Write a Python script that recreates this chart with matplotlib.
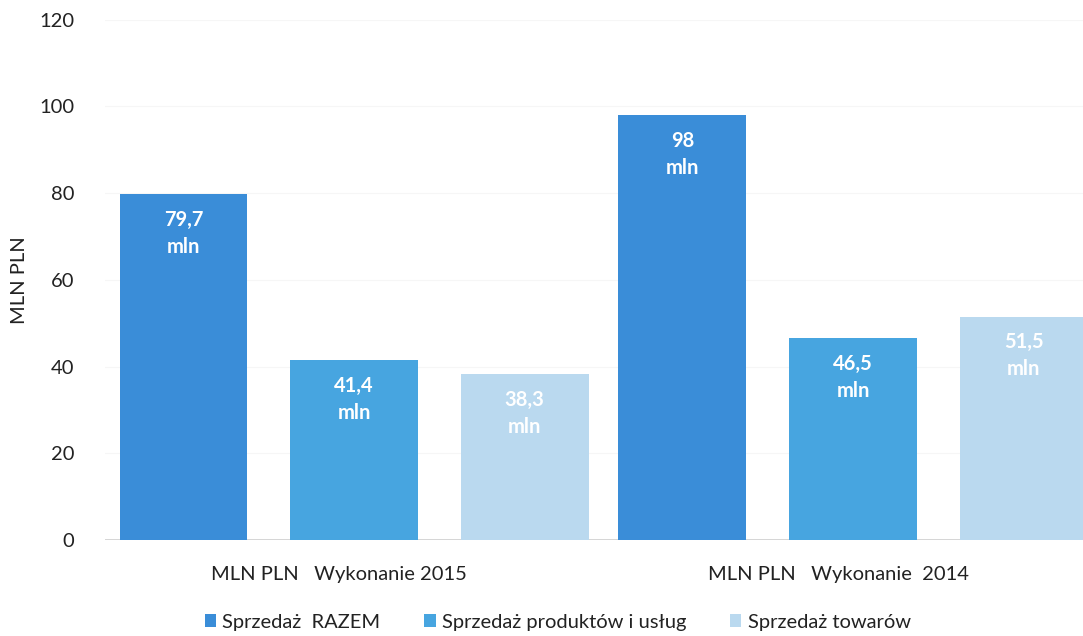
import numpy as np
import matplotlib.pyplot as plt

plt.rcParams['font.family'] = ['Lato', 'DejaVu Sans']

# Dane
grupy = ["MLN PLN   Wykonanie 2015", "MLN PLN   Wykonanie  2014"]
serie = ["Sprzedaż  RAZEM", "Sprzedaż produktów i usług", "Sprzedaż towarów"]
razem = [79.7, 98.0]
produkty = [41.4, 46.5]
towary = [38.3, 51.5]
etykiety = [["79,7", "98"], ["41,4", "46,5"], ["38,3", "51,5"]]
kolory = ["#3a8dd8", "#47a5e0", "#bad9ef"]

fig = plt.figure(figsize=(10.83, 6.36), dpi=100)
ax = fig.add_axes([0.097, 0.151, 0.903, 0.818])

x = np.arange(len(grupy))
szer = 0.256
odst = 0.342

for k, (vals, kol, nazwa) in enumerate(zip([razem, produkty, towary], kolory, serie)):
    pos = x + (k - 1) * odst
    ax.bar(pos, vals, width=szer, color=kol, label=nazwa, zorder=3)
    for p, v, t in zip(pos, vals, etykiety[k]):
        ax.text(p, v - 3.6, t + "\nmln", ha="center", va="top", color="white",
                fontsize=14.5, fontweight="bold", linespacing=1.45, zorder=4)

ax.set_xlim(-0.499, 1.461)
ax.set_ylim(0, 120)
ax.set_yticks(np.arange(0, 121, 20))
ax.set_xticks(x - 0.03)
ax.set_xticklabels(grupy)
ax.tick_params(axis="both", length=0, labelsize=14.5, colors="#222222")
ax.tick_params(axis="x", pad=19)
ax.tick_params(axis="y", pad=22)
ax.set_ylabel("MLN PLN", fontsize=14.5, color="#222222", labelpad=8)
ax.yaxis.grid(True, color="#f6f6f6", linewidth=0.8, zorder=0)
for s in ax.spines.values():
    s.set_visible(False)
ax.axhline(0, color="#cfcfcf", linewidth=1.2, zorder=2)

fig.legend(loc="lower center", bbox_to_anchor=(0.515, -0.02), ncol=3, frameon=False,
           fontsize=14.5, handlelength=0.55, handleheight=0.55, handletextpad=0.3,
           columnspacing=2.2, labelcolor="#222222")

fig.savefig("out.png", dpi=100)
